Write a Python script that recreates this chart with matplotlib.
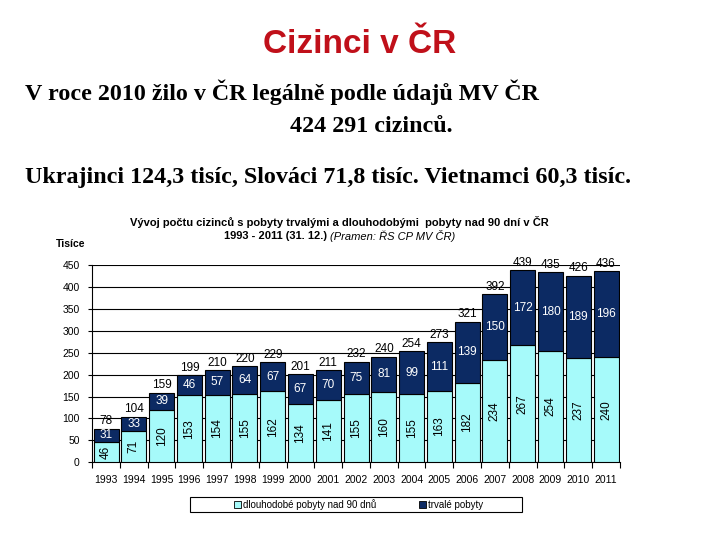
import numpy as np
import matplotlib
matplotlib.use("Agg")
import matplotlib.pyplot as plt
from matplotlib.patches import Rectangle

# data (thousands)
years = ['1993', '1994', '1995', '1996', '1997', '1998', '1999', '2000', '2001', '2002',
         '2003', '2004', '2005', '2006', '2007', '2008', '2009', '2010', '2011']
longTerm = [46, 71, 120, 153, 154, 155, 162, 134, 141, 155, 160, 155, 163, 182, 234, 267, 254, 237, 240]
permanent = [31, 33, 39, 46, 57, 64, 67, 67, 70, 75, 81, 99, 111, 139, 150, 172, 180, 189, 196]
totals = [78, 104, 159, 199, 210, 220, 229, 201, 211, 232, 240, 254, 273, 321, 392, 439, 435, 426, 436]
yTicks = [0, 50, 100, 150, 200, 250, 300, 350, 400, 450]

lightCol = '#a6fafa'
darkCol = '#0c2a63'

fig = plt.figure(figsize=(7.2, 5.4), dpi=100)

# slide texts
fig.text(0.5, 0.917, 'Cizinci v ČR', color='#c0101a', fontsize=24, fontweight='bold',
         ha='center', va='center', family='Liberation Sans')
fig.text(0.035, 0.83, 'V roce 2010 žilo v ČR legálně podle údajů MV ČR', fontsize=17.3,
         fontweight='bold', family='Liberation Serif', va='center')
fig.text(0.403, 0.765, '424 291 cizinců.', fontsize=17.3, fontweight='bold',
         family='Liberation Serif', va='center')
fig.text(0.035, 0.672, 'Ukrajinci 124,3 tisíc, Slováci 71,8 tisíc. Vietnamci 60,3 tisíc.', fontsize=17.3,
         fontweight='bold', family='Liberation Serif', va='center')

# chart titles
fig.text(0.472, 0.589, 'Vývoj počtu cizinců s pobyty trvalými a dlouhodobými  pobyty nad 90 dní v ČR',
         fontsize=8, fontweight='bold', ha='center', va='center', family='Liberation Sans')
fig.text(0.459, 0.563, '1993 - 2011 (31. 12.) ', fontsize=8, fontweight='bold', ha='right', va='center',
         family='Liberation Sans')
fig.text(0.459, 0.563, '(Pramen: ŘS CP MV ČR)', fontsize=8, style='italic', ha='left', va='center',
         family='Liberation Sans')
fig.text(0.077, 0.549, 'Tisíce', fontsize=7.5, fontweight='bold', ha='left', va='center',
         family='Liberation Sans')

ax = fig.add_axes([0.128, 0.144, 0.733, 0.365])
x = np.arange(len(years))
w = 0.9
ax.bar(x, longTerm, w, color=lightCol, edgecolor='black', linewidth=0.8, zorder=3,
       label='dlouhodobé pobyty nad 90 dnů')
ax.bar(x, permanent, w, bottom=longTerm, color=darkCol, edgecolor='black', linewidth=0.8, zorder=3,
       label='trvalé pobyty')

for i in range(len(years)):
    ax.text(x[i], longTerm[i] / 2, str(longTerm[i]), rotation=90, ha='center', va='center',
            fontsize=8.5, zorder=4, family='Liberation Sans')
    ax.text(x[i], longTerm[i] + permanent[i] / 2, str(permanent[i]), ha='center', va='center',
            fontsize=8.5, color='white', zorder=4, family='Liberation Sans')
    ax.text(x[i], longTerm[i] + permanent[i] + 3, str(totals[i]), ha='center', va='bottom',
            fontsize=8.5, zorder=4, clip_on=False, family='Liberation Sans')

ax.set_xlim(-0.5, len(years) - 0.5)
ax.set_ylim(0, 450)
ax.set_yticks(yTicks)
ax.yaxis.grid(True, color='black', linewidth=0.8, zorder=0)
ax.set_xticks(x)
ax.set_xticklabels(years)
ax.set_xticks(np.arange(-0.5, len(years)), minor=True)
ax.tick_params(axis='x', which='major', length=0, pad=9, labelsize=7.5)
ax.tick_params(axis='x', which='minor', length=4, width=0.8)
ax.tick_params(axis='y', length=3, width=0.8, labelsize=7.5, pad=6)
for lab in ax.get_xticklabels() + ax.get_yticklabels():
    lab.set_family('Liberation Sans')
ax.spines['top'].set_visible(False)
ax.spines['right'].set_visible(False)

# legend without frame, box drawn separately (wider than the entries)
leg = fig.legend(loc='center', bbox_to_anchor=(0.498, 0.0657), ncol=2, frameon=False,
                 handlelength=0.7, handleheight=0.7, handletextpad=0.2, columnspacing=4.4,
                 borderpad=0.3, borderaxespad=0,
                 prop={'family': 'Liberation Sans', 'size': 7})
for h in leg.legend_handles:
    h.set_edgecolor('black')
    h.set_linewidth(0.6)
fig.patches.append(Rectangle((190 / 720, 1 - 512 / 540), 332 / 720, 15 / 540,
                             transform=fig.transFigure, fill=False, edgecolor='black', linewidth=0.8))

fig.savefig('out.png', dpi=100)
